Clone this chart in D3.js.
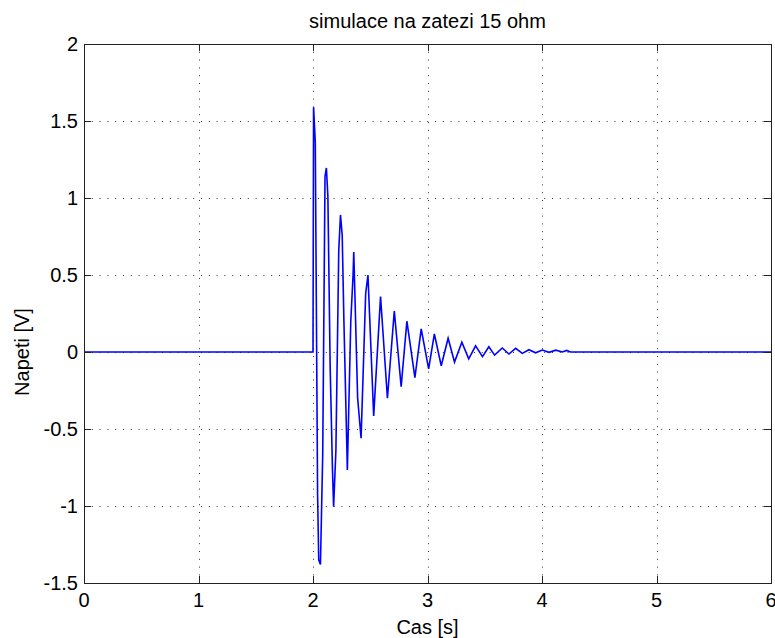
<!DOCTYPE html>
<html><head><meta charset="utf-8">
<script src="https://cdn.jsdelivr.net/npm/d3@7"></script>
<style>body{margin:0;background:#fff}svg{display:block}text{font-family:"Liberation Sans",Arial,sans-serif;fill:#000}</style>
</head><body><div id="chart"></div>
<script>
const title = "simulace na zatezi 15 ohm";
const xLabel = "Cas [s]";
const yLabel = "Napeti [V]";
const xTicks = [0,1,2,3,4,5,6];
const yTicks = [-1.5,-1,-0.5,0,0.5,1,1.5,2];
const yTickLabels = ["-1.5","-1","-0.5","0","0.5","1","1.5","2"];
// waveform samples (time [s], voltage [V])
const time = [0,2.0,2.005,2.02,2.04,2.05,2.065,2.085,2.105,2.117,2.13,2.15,2.17,2.18,2.2,2.225,2.24,2.255,2.27,2.295,2.30,2.33,2.35,2.356,2.39,2.42,2.46,2.48,2.53,2.59,2.65,2.71,2.77,2.82,2.89,2.945,3.01,3.06,3.12,3.18,3.236,3.30,3.36,3.42,3.48,3.536,3.586,3.653,3.711,3.77,3.828,3.886,3.944,4.003,4.061,4.12,4.178,4.215,4.25,6.0];
const volt = [0,0,1.59,1.36,-0.92,-1.35,-1.38,-0.66,1.14,1.195,1.01,-0.1,-0.76,-1.005,-0.64,0.66,0.89,0.76,0.2,-0.6,-0.766,0.2,0.5,0.65,-0.3,-0.56,0.38,0.50,-0.415,0.36,-0.30,0.266,-0.225,0.20,-0.167,0.15,-0.11,0.117,-0.089,0.089,-0.065,0.063,-0.045,0.04,-0.03,0.034,-0.02,0.026,-0.013,0.024,-0.009,0.015,-0.005,0.013,-0.002,0.012,0.0,0.01,0,0];

const W=775,H=638;
const m={l:84,r:771,t:44,b:583};
const svg=d3.select("#chart").append("svg").attr("width",W).attr("height",H);
const x=d3.scaleLinear().domain([0,6]).range([m.l,m.r]);
const y=d3.scaleLinear().domain([-1.5,2]).range([m.b,m.t]);
const fs=20;

// grid
const g=svg.append("g");
g.selectAll(".vg").data(xTicks.slice(1,-1)).enter().append("line")
 .attr("x1",d=>Math.round(x(d))+0.5).attr("x2",d=>Math.round(x(d))+0.5)
 .attr("y1",m.t).attr("y2",m.b).attr("stroke","#333").attr("stroke-dasharray","1,6.8");
g.selectAll(".hg").data(yTicks.slice(1,-1)).enter().append("line")
 .attr("y1",d=>Math.round(y(d))+0.5).attr("y2",d=>Math.round(y(d))+0.5)
 .attr("x1",m.l).attr("x2",m.r).attr("stroke","#333").attr("stroke-dasharray","1,6.8");

// data line
const pts=time.map((t,i)=>[t,volt[i]]);
svg.append("path").datum(pts)
 .attr("d",d3.line().x(d=>x(d[0])).y(d=>y(d[1])))
 .attr("fill","none").attr("stroke","#0000ff").attr("stroke-width",1.6);

// axes with inward ticks
const tk=7;
const ax=svg.append("g").attr("stroke","#222").attr("stroke-width",1);
xTicks.forEach(d=>{
  const px=Math.round(x(d))+0.5;
  ax.append("line").attr("x1",px).attr("x2",px).attr("y1",m.b).attr("y2",m.b-tk);
  ax.append("line").attr("x1",px).attr("x2",px).attr("y1",m.t).attr("y2",m.t+tk);
});
yTicks.forEach(d=>{
  const py=Math.round(y(d))+0.5;
  ax.append("line").attr("x1",m.l).attr("x2",m.l+tk).attr("y1",py).attr("y2",py);
  ax.append("line").attr("x1",m.r).attr("x2",m.r-tk).attr("y1",py).attr("y2",py);
});
ax.append("rect").attr("x",m.l+0.5).attr("y",m.t+0.5).attr("width",m.r-m.l).attr("height",m.b-m.t).attr("fill","none");

// tick labels
svg.selectAll(".xl").data(xTicks).enter().append("text")
 .attr("x",d=>x(d)).attr("y",607).attr("text-anchor","middle").attr("font-size",fs).text(d=>d);
svg.selectAll(".yl").data(yTicks).enter().append("text")
 .attr("x",78).attr("y",d=>y(d)+7).attr("text-anchor","end").attr("font-size",fs).text((d,i)=>yTickLabels[i]);

// titles
svg.append("text").attr("x",(m.l+m.r)/2).attr("y",28).attr("text-anchor","middle").attr("font-size",fs).text(title);
svg.append("text").attr("x",(m.l+m.r)/2).attr("y",634).attr("text-anchor","middle").attr("font-size",fs).text(xLabel);
svg.append("text").attr("transform",`translate(29,${y(0)}) rotate(-90)`).attr("text-anchor","middle").attr("font-size",fs).text(yLabel);
</script></body></html>
